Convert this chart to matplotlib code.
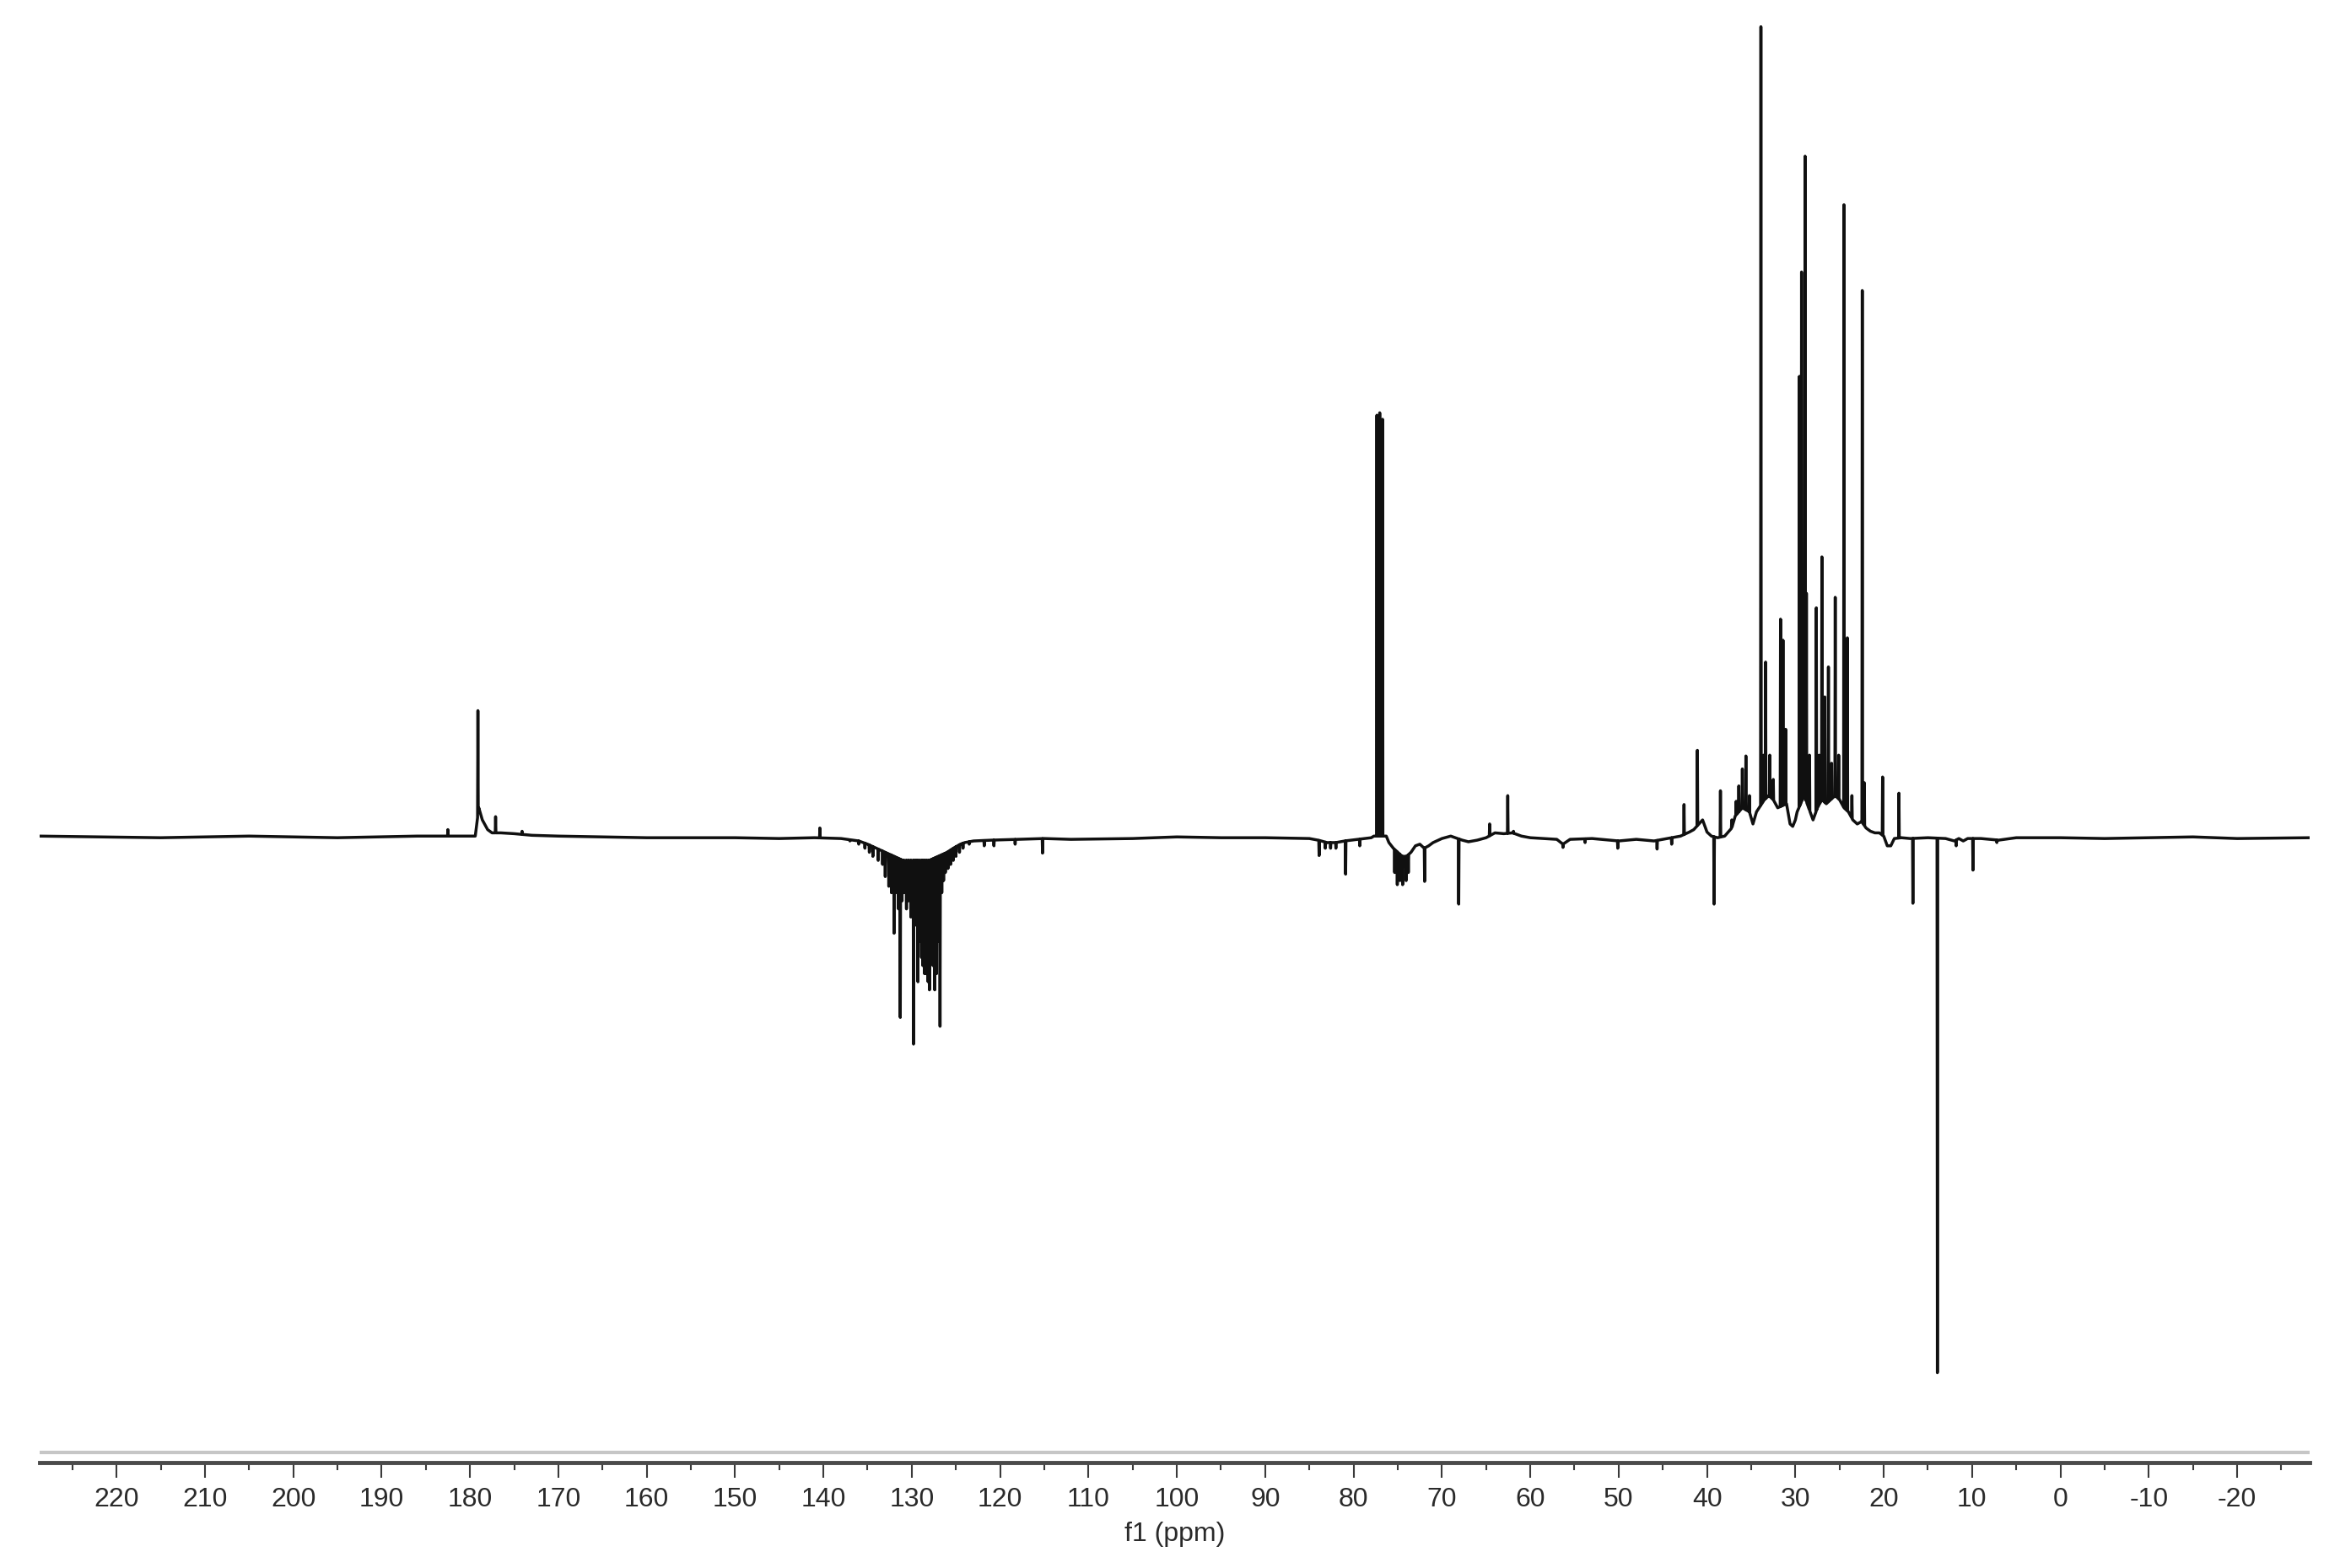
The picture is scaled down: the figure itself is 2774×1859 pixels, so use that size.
import numpy as np
import matplotlib
matplotlib.use("Agg")
import matplotlib.pyplot as plt
from matplotlib.ticker import MultipleLocator, FixedLocator, FixedFormatter

# ---------------- data ----------------
# slowly varying baseline / envelope of the spectrum (ppm, intensity)
base_ppm = [228.7, 215, 205, 195, 186, 183, 179.4, 179.0, 178.6, 178.0, 177.5, 176.5, 175, 173, 170,
            160, 150, 145, 141, 138, 136, 135, 134, 133, 132, 131, 130, 129, 128, 127, 126,
            125.3, 124.5, 124, 123, 121, 118, 115, 112, 105, 100, 95, 90, 85, 84, 83, 82, 81,
            79.5, 78, 77.7, 76.3, 76, 75.5, 75, 74.5, 74, 73.5, 73, 72.5, 72, 71.5, 71, 70, 69,
            68.5, 67.7, 67, 66, 65, 64, 63, 62, 61, 60, 57, 56.3, 55.5, 53, 50, 48, 46, 45, 44,
            43, 42, 41.5, 40.5, 40, 39.5, 38.8, 38, 37.2, 36.8, 36, 35.2, 34.8, 34.4, 33.5, 33,
            32.5, 32, 31, 30.6, 30.3, 30, 29.8, 29, 28.5, 28, 27.5, 27, 26.5, 26, 25.5, 25, 24.5,
            24, 23.5, 23, 22.5, 22, 21.5, 21, 20.5, 20, 19.6, 19.2, 18.8, 18, 17, 15, 13, 12,
            11.5, 11, 10.5, 9, 7, 5, 0, -5, -10, -15, -20, -28.2]
base_val = [0.000, -0.002, 0.000, -0.002, 0.000, 0.000, 0.000, 0.035, 0.020, 0.008, 0.004, 0.004, 0.003, 0.001, 0.000,
            -0.002, -0.002, -0.003, -0.002, -0.003, -0.006, -0.010, -0.015, -0.020, -0.025, -0.030, -0.030, -0.030, -0.030, -0.025, -0.020,
            -0.015, -0.010, -0.008, -0.006, -0.005, -0.004, -0.003, -0.004, -0.003, -0.001, -0.002, -0.002, -0.003, -0.005, -0.008, -0.008, -0.006,
            -0.004, -0.002, 0.000, 0.000, -0.008, -0.015, -0.020, -0.025, -0.025, -0.020, -0.012, -0.010, -0.015, -0.012, -0.008, -0.003, 0.000,
            -0.002, -0.005, -0.007, -0.005, -0.002, 0.004, 0.003, 0.004, 0.000, -0.002, -0.004, -0.010, -0.004, -0.003, -0.006, -0.004, -0.006, -0.004, -0.002,
            0.000, 0.005, 0.008, 0.020, 0.005, 0.000, -0.002, 0.000, 0.010, 0.025, 0.035, 0.030, 0.015, 0.030, 0.045, 0.050,
            0.045, 0.035, 0.040, 0.015, 0.012, 0.020, 0.030, 0.050, 0.035, 0.020, 0.035, 0.045, 0.040, 0.045, 0.050, 0.045, 0.035,
            0.030, 0.020, 0.015, 0.018, 0.010, 0.006, 0.004, 0.004, 0.000, -0.012, -0.012, -0.003, -0.002, -0.003, -0.002, -0.003, -0.006,
            -0.003, -0.006, -0.003, -0.003, -0.005, -0.002, -0.002, -0.003, -0.002, -0.001, -0.003, -0.002]

# individual lines: position (ppm) and apex intensity
peak_ppm = [182.5, 179.1, 177.1, 174.1, 140.4,
            137.0, 136.0, 135.3, 134.8, 134.4, 133.8, 133.3, 133.0, 132.6, 132.3, 132.0, 131.7, 131.5,
            131.3, 131.1, 130.9, 130.6, 130.35, 130.1, 129.8, 129.6, 129.45, 129.3, 129.1, 128.9,
            128.75, 128.55, 128.35, 128.15, 128.0, 127.8, 127.6, 127.4, 127.2, 127.0, 126.8, 126.6,
            126.4, 126.2, 125.9, 125.6, 125.3, 125.0, 124.6, 124.2, 123.5, 121.8, 120.7, 118.3, 115.2,
            83.9, 83.2, 82.6, 82.0, 80.9, 79.3, 77.36, 77.04, 76.72,
            75.35, 75.05, 74.75, 74.45, 74.05, 73.8, 71.96, 68.1, 64.6, 62.55, 61.9,
            56.3, 53.8, 50.1, 45.65, 44.0,
            42.6, 41.09, 39.2, 38.48, 37.2, 36.7, 36.4, 36.0, 35.6, 35.2,
            33.9, 33.6, 33.37, 32.9, 32.5, 31.68, 31.4, 31.1,
            29.54, 29.3, 28.9, 28.75, 28.4, 27.63, 27.3, 27.0, 26.67, 26.26, 25.9, 25.49, 25.1,
            24.5, 24.12, 23.6, 22.43, 22.2, 20.13, 18.28,
            16.7, 13.93, 11.8, 9.9, 7.2]
peak_top = [0.008, 0.155, 0.024, 0.006, 0.010,
            -0.006, -0.010, -0.015, -0.020, -0.025, -0.030, -0.035, -0.050, -0.062, -0.070, -0.120, -0.070, -0.090,
            -0.224, -0.080, -0.070, -0.090, -0.080, -0.100, -0.257, -0.110, -0.100, -0.180, -0.130, -0.150,
            -0.160, -0.170, -0.170, -0.180, -0.190, -0.150, -0.160, -0.190, -0.170, -0.130, -0.235, -0.070,
            -0.055, -0.045, -0.040, -0.035, -0.030, -0.025, -0.020, -0.015, -0.010, -0.012, -0.012, -0.010, -0.021,
            -0.024, -0.015, -0.015, -0.015, -0.047, -0.012, 0.520, 0.523, 0.515,
            -0.045, -0.060, -0.055, -0.060, -0.055, -0.045, -0.056, -0.084, 0.015, 0.050, 0.006,
            -0.014, -0.008, -0.015, -0.016, -0.010,
            0.039, 0.106, -0.084, 0.056, 0.020, 0.043, 0.062, 0.083, 0.099, 0.050,
            1.000, 0.100, 0.215, 0.100, 0.070, 0.268, 0.242, 0.132,
            0.568, 0.697, 0.840, 0.300, 0.100, 0.282, 0.100, 0.345, 0.172, 0.209, 0.090, 0.295, 0.100,
            0.780, 0.245, 0.050, 0.674, 0.066, 0.073, 0.053,
            -0.083, -0.663, -0.012, -0.042, -0.008]

tick_values = list(range(-20, 221, 10))
tick_labels = [str(v) for v in tick_values]
x_title = "f1 (ppm)"
ppm_range = (228.7, -28.2)
int_range = (-0.774, 1.033)
frame_line_level = -0.762

# ---------------- build the trace ----------------
bp = np.array(base_ppm)[::-1]
bv = np.array(base_val)[::-1]
pp = np.array(peak_ppm)
eps = 0.04
pts = [(x, y) for x, y in zip(base_ppm, base_val) if np.min(np.abs(pp - x)) > 1.5 * eps]
for p, t in zip(peak_ppm, peak_top):
    pts.append((p + eps, float(np.interp(p + eps, bp, bv))))
    pts.append((p, t))
    pts.append((p - eps, float(np.interp(p - eps, bp, bv))))
pts.sort(key=lambda q: -q[0])
tx = [q[0] for q in pts]
ty = [q[1] for q in pts]

# ---------------- figure ----------------
plt.rcParams['font.family'] = ['Liberation Sans', 'DejaVu Sans']
W, H = 2774, 1859
fig = plt.figure(figsize=(W / 100, H / 100), dpi=100)
ax = fig.add_axes([47 / W, (H - 1734) / H, (2738 - 47) / W, 1734 / H])

ax.plot(tx, ty, color="#101010", lw=2.5, solid_joinstyle="round")
ax.axhline(frame_line_level, color="#c6c6c6", lw=3.0)

ax.set_xlim(*ppm_range)
ax.set_ylim(*int_range)

for s in ("top", "left", "right"):
    ax.spines[s].set_visible(False)
ax.spines["bottom"].set_color("#4a4a4a")
ax.spines["bottom"].set_linewidth(3.5)
ax.set_yticks([])

ax.xaxis.set_major_locator(FixedLocator(tick_values))
ax.xaxis.set_major_formatter(FixedFormatter(tick_labels))
ax.xaxis.set_minor_locator(MultipleLocator(5))
ax.tick_params(axis="x", which="major", length=13, width=1.5, color="#3a3a3a",
               pad=8, labelsize=23, labelcolor="#2a2a2a")
ax.tick_params(axis="x", which="minor", length=6.5, width=1.5, color="#3a3a3a")
ax.set_xlabel(x_title, fontsize=23, color="#2a2a2a", labelpad=8)

fig.savefig("out.png", dpi=100, facecolor="white")
